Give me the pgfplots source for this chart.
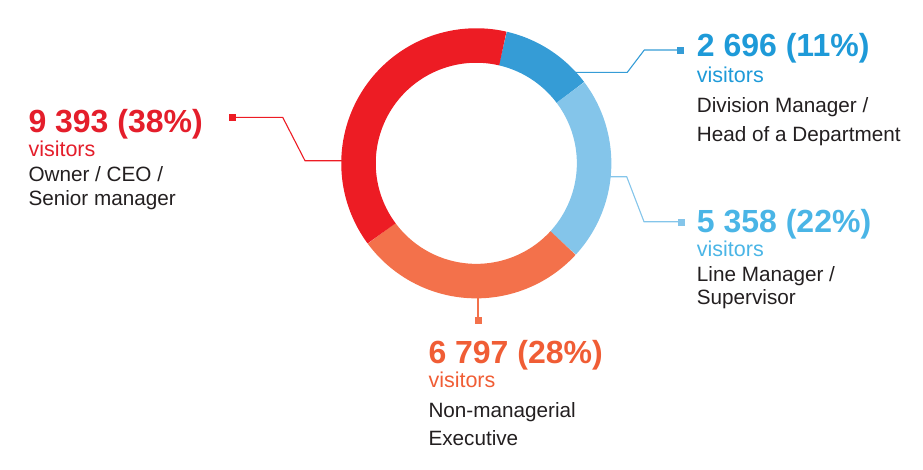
\documentclass[border=0pt]{standalone}
\usepackage{pgfplots}
\pgfplotsset{compat=1.18}
\usepackage{pgfplotstable}
\usepackage{fontspec}
\setmainfont{Liberation Sans}
\definecolor{cRed}{HTML}{ED1C24}
\definecolor{cBlue}{HTML}{359CD6}
\definecolor{cLBlue}{HTML}{84C5EA}
\definecolor{cOrange}{HTML}{F3714B}
\definecolor{tRed}{HTML}{E41E2B}
\definecolor{tBlue}{HTML}{1E9AD8}
\definecolor{tLBlue}{HTML}{4AB5E6}
\definecolor{tOrange}{HTML}{F05D35}
\definecolor{tBlack}{HTML}{231F20}

\pgfplotstableread{
label value
division 2696
line 5358
nonman 6797
owner 9393
}\datatable

\newcommand{\bignum}{\fontsize{32}{32}\selectfont\bfseries}
\newcommand{\vis}{\fontsize{21.5}{21.5}\selectfont}
\newcommand{\desc}{\fontsize{20.7}{20.7}\selectfont}

\begin{document}
\begin{tikzpicture}
\pgfplotstablegetelem{0}{value}\of\datatable\let\vA\pgfplotsretval
\pgfplotstablegetelem{1}{value}\of\datatable\let\vB\pgfplotsretval
\pgfplotstablegetelem{2}{value}\of\datatable\let\vC\pgfplotsretval
\pgfplotstablegetelem{3}{value}\of\datatable\let\vD\pgfplotsretval
\pgfmathsetmacro{\fA}{\vA/1000}
\pgfmathsetmacro{\fB}{\vB/1000}
\pgfmathsetmacro{\fC}{\vC/1000}
\pgfmathsetmacro{\fD}{\vD/1000}
\pgfmathsetmacro{\tot}{\fA+\fB+\fC+\fD}
\pgfmathsetmacro{\aA}{77}
\pgfmathsetmacro{\aB}{\aA-360*\fA/\tot}
\pgfmathsetmacro{\aC}{\aB-360*\fB/\tot}
\pgfmathsetmacro{\aD}{\aC-360*\fC/\tot}
\pgfmathsetmacro{\aE}{\aD-360*\fD/\tot}
\begin{axis}[x=1pt, y=1pt, xmin=0, xmax=923, ymin=0, ymax=469, y dir=reverse,
  hide axis, clip=false]
\coordinate (BBa) at (axis cs:0,0);
\coordinate (BBb) at (axis cs:923,469);
% leader lines
\addplot[cRed, line width=1.1pt] coordinates {(345,160.7) (305,160.7) (282.7,117.3) (232,117.3)};
\addplot[cRed, only marks, mark=square*, mark size=3pt] coordinates {(232,117.3)};
\addplot[cBlue, line width=1.1pt] coordinates {(570,72.3) (627.3,72.3) (644.3,50) (680,50)};
\addplot[cBlue, only marks, mark=square*, mark size=3pt] coordinates {(680,50)};
\addplot[cLBlue, line width=1.1pt] coordinates {(605,176.7) (626.7,176.7) (644,221.7) (680.7,221.7)};
\addplot[cLBlue, only marks, mark=square*, mark size=3pt] coordinates {(680.7,221.7)};
\addplot[cOrange, line width=1.1pt] coordinates {(478,292) (478,320)};
\addplot[cOrange, only marks, mark=square*, mark size=3pt] coordinates {(478,320)};
% donut slices
\addplot[cBlue, line width=34.5pt, domain=\aB:\aA, samples=40] ({476.3+117.8*cos(x)},{163.3-117.8*sin(x)});
\addplot[cLBlue, line width=34.5pt, domain=\aC:\aB, samples=60] ({476.3+117.8*cos(x)},{163.3-117.8*sin(x)});
\addplot[cOrange, line width=34.5pt, domain=\aD:\aC, samples=80] ({476.3+117.8*cos(x)},{163.3-117.8*sin(x)});
\addplot[cRed, line width=34.5pt, domain=\aE:\aD, samples=100] ({476.3+117.8*cos(x)},{163.3-117.8*sin(x)});
% labels
\node[anchor=base west, inner sep=0, text=tRed, font=\bignum] at (axis cs:28.3,132.7) {9 393 (38\%)};
\node[anchor=base west, inner sep=0, text=tRed, font=\vis] at (axis cs:28.3,156.7) {visitors};
\node[anchor=base west, inner sep=0, text=tBlack, font=\desc] at (axis cs:28.3,181) {Owner / CEO /};
\node[anchor=base west, inner sep=0, text=tBlack, font=\desc] at (axis cs:28.3,205) {Senior manager};

\node[anchor=base west, inner sep=0, text=tBlue, font=\bignum] at (axis cs:696.7,56.7) {2 696 (11\%)};
\node[anchor=base west, inner sep=0, text=tBlue, font=\vis] at (axis cs:696.7,82.7) {visitors};
\node[anchor=base west, inner sep=0, text=tBlack, font=\desc] at (axis cs:696.7,112.7) {Division Manager /};
\node[anchor=base west, inner sep=0, text=tBlack, font=\desc] at (axis cs:696.7,141) {Head of a Department};

\node[anchor=base west, inner sep=0, text=tLBlue, font=\bignum] at (axis cs:696.7,232.7) {5 358 (22\%)};
\node[anchor=base west, inner sep=0, text=tLBlue, font=\vis] at (axis cs:696.7,256) {visitors};
\node[anchor=base west, inner sep=0, text=tBlack, font=\desc] at (axis cs:696.7,281.7) {Line Manager /};
\node[anchor=base west, inner sep=0, text=tBlack, font=\desc] at (axis cs:696.7,304.5) {Supervisor};

\node[anchor=base west, inner sep=0, text=tOrange, font=\bignum] at (axis cs:428.3,363.3) {6 797 (28\%)};
\node[anchor=base west, inner sep=0, text=tOrange, font=\vis] at (axis cs:428.3,387.3) {visitors};
\node[anchor=base west, inner sep=0, text=tBlack, font=\desc] at (axis cs:428.3,417.3) {Non-managerial};
\node[anchor=base west, inner sep=0, text=tBlack, font=\desc] at (axis cs:428.3,445.7) {Executive};
\end{axis}
\pgfresetboundingbox
\path (BBa) rectangle (BBb);
\end{tikzpicture}
\end{document}
